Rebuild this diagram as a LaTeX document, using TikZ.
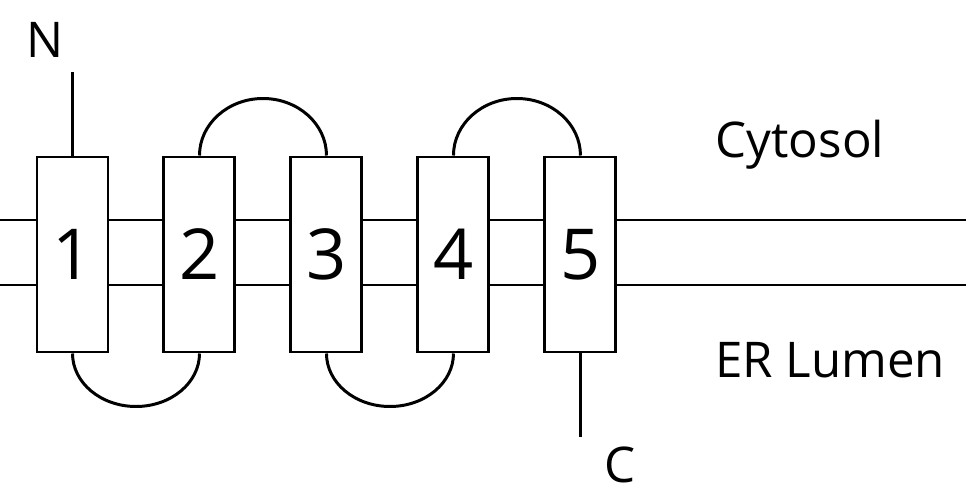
\documentclass[tikz,border=0pt]{standalone}
\usepackage{fontspec}
\setmainfont{Open Sans}
\usetikzlibrary{positioning}
\tikzset{
	helix/.style={
		rectangle,
		draw=black,
		fill=white,
		line width=1.7pt,
		minimum width=1.42cm,
		minimum height=3.9cm,
		inner sep=0pt,
		font=\fontsize{40}{40}\selectfont
	},
	membrane/.style={line width=1.7pt},
	loopline/.style={line width=1.7pt},
	tag/.style={font=\fontsize{28}{28}\selectfont}
}
\begin{document}
\begin{tikzpicture}[node distance=1.06cm]
	\useasboundingbox (0,0) rectangle (19.32,-9.88);

	% membrane
	\draw [membrane] (0,-4.4) -- (19.32,-4.4);
	\draw [membrane] (0,-5.7) -- (19.32,-5.7);

	% helices
	\node (h1) [helix] at (1.45,-5.09) {1};
	\node (h2) [helix, right=of h1] {2};
	\node (h3) [helix, right=of h2] {3};
	\node (h4) [helix, right=of h3] {4};
	\node (h5) [helix, right=of h4] {5};

	% loops
	\draw [loopline] (h2.north) arc[start angle=180, end angle=0, x radius=1.27cm, y radius=1.14cm];
	\draw [loopline] (h4.north) arc[start angle=180, end angle=0, x radius=1.27cm, y radius=1.14cm];
	\draw [loopline] (h1.south) arc[start angle=180, end angle=360, x radius=1.27cm, y radius=1.06cm];
	\draw [loopline] (h3.south) arc[start angle=180, end angle=360, x radius=1.27cm, y radius=1.06cm];

	% termini
	\node (nterm) [tag] at (0.9,-0.8) {N};
	\coordinate (ntop) at (1.45,-1.45);
	\draw [loopline] (h1.north) -- (ntop);
	\node (cterm) [tag] at (12.4,-9.3) {C};
	\coordinate (cbot) at (0,-8.74);
	\draw [loopline] (h5.south) -- (h5.south |- cbot);

	\node (cytosol) [tag] at (16,-2.9) {Cytosol};
	\node (lumen) [tag] at (16.6,-7.2) {ER Lumen};
\end{tikzpicture}
\end{document}
